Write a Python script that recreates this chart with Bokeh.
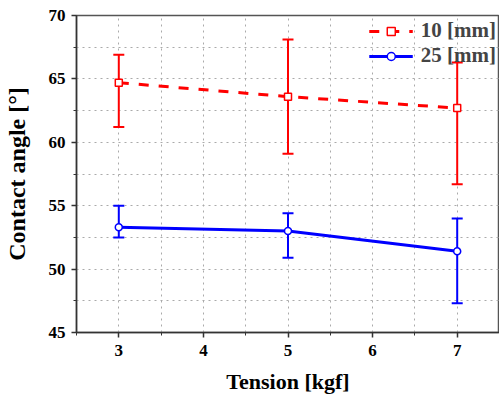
from bokeh.plotting import figure
from bokeh.models import Whisker, TeeHead, ColumnDataSource, Legend, LegendItem, FixedTicker, Range1d
from bokeh.embed import file_html
from bokeh.resources import INLINE

tension = [3, 5, 7]
a10 = [64.7, 63.6, 62.7]
a10_lo = [61.2, 59.1, 56.7]
a10_hi = [66.9, 68.1, 66.3]
a25 = [53.3, 53.0, 51.4]
a25_lo = [52.5, 50.9, 47.3]
a25_hi = [55.0, 54.4, 54.0]

FONT = "Liberation Serif"

p = figure(width=499, height=399, output_backend="svg", toolbar_location=None,
           x_range=Range1d(2.5, 7.5), y_range=Range1d(45, 70),
           min_border_left=73, min_border_top=15, min_border_right=0, min_border_bottom=67)
p.background_fill_color = "white"
p.outline_line_color = "#555555"
p.outline_line_width = 1.5

p.xaxis.ticker = FixedTicker(ticks=[3, 4, 5, 6, 7], minor_ticks=[2.5, 3.5, 4.5, 5.5, 6.5, 7.5])
p.yaxis.ticker = FixedTicker(ticks=[45, 50, 55, 60, 65, 70], minor_ticks=[47.5, 52.5, 57.5, 62.5, 67.5])
for ax in (p.xaxis, p.yaxis):
    ax.axis_line_color = "#333333"
    ax.axis_line_width = 1.5
    ax.major_tick_line_color = "#333333"
    ax.major_tick_line_width = 1.5
    ax.minor_tick_line_color = "#333333"
    ax.major_tick_out = 5
    ax.major_tick_in = 0
    ax.minor_tick_out = 3
    ax.minor_tick_in = 0
    ax.major_label_text_font = FONT
    ax.major_label_text_font_style = "bold"
    ax.major_label_text_font_size = "17px"
    ax.major_label_text_color = "black"
    ax.axis_label_text_font = FONT
    ax.axis_label_text_font_style = "bold"
    ax.axis_label_text_color = "black"
p.xaxis.axis_label_text_font_size = "22px"
p.yaxis.axis_label_text_font_size = "24px"
p.xaxis.axis_label = "Tension [kgf]"
p.yaxis.axis_label = "Contact angle [°]"
p.xaxis.major_label_standoff = 7
p.xaxis.axis_label_standoff = 10
p.yaxis.major_label_standoff = 6
p.yaxis.axis_label_standoff = 16

for g in (p.xgrid, p.ygrid):
    g.grid_line_color = "#aaaaaa"
    g.grid_line_dash = "dotted"
    g.grid_line_width = 1
    g.minor_grid_line_color = "#aaaaaa"
    g.minor_grid_line_dash = "dotted"

src10 = ColumnDataSource(dict(x=tension, y=a10, lo=a10_lo, hi=a10_hi))
src25 = ColumnDataSource(dict(x=tension, y=a25, lo=a25_lo, hi=a25_hi))

RED = "#ff0000"
BLUE = "#0000ff"

p.add_layout(Whisker(source=src10, base="x", lower="lo", upper="hi", line_color=RED, line_width=2,
                     upper_head=TeeHead(size=11, line_color=RED, line_width=2),
                     lower_head=TeeHead(size=11, line_color=RED, line_width=2)))
p.add_layout(Whisker(source=src25, base="x", lower="lo", upper="hi", line_color=BLUE, line_width=2,
                     upper_head=TeeHead(size=11, line_color=BLUE, line_width=2),
                     lower_head=TeeHead(size=11, line_color=BLUE, line_width=2)))

l10 = p.line("x", "y", source=src10, line_color=RED, line_width=3, line_dash="10 10")
s10 = p.scatter("x", "y", source=src10, marker="square", size=7, line_color=RED, line_width=1.5, fill_color="white")
l25 = p.line("x", "y", source=src25, line_color=BLUE, line_width=3)
s25 = p.scatter("x", "y", source=src25, marker="circle", size=7, line_color=BLUE, line_width=1.5, fill_color="white")

legend = Legend(items=[LegendItem(label="10 [mm]", renderers=[l10, s10]),
                       LegendItem(label="25 [mm]", renderers=[l25, s25])],
                location="top_right", border_line_color=None, background_fill_alpha=0,
                label_text_font=FONT, label_text_font_style="bold", label_text_font_size="21px",
                glyph_width=44, glyph_height=20, label_height=20, spacing=0, padding=1, margin=3, label_standoff=8)
p.add_layout(legend)

open("out.html", "w").write(file_html(p, INLINE))
